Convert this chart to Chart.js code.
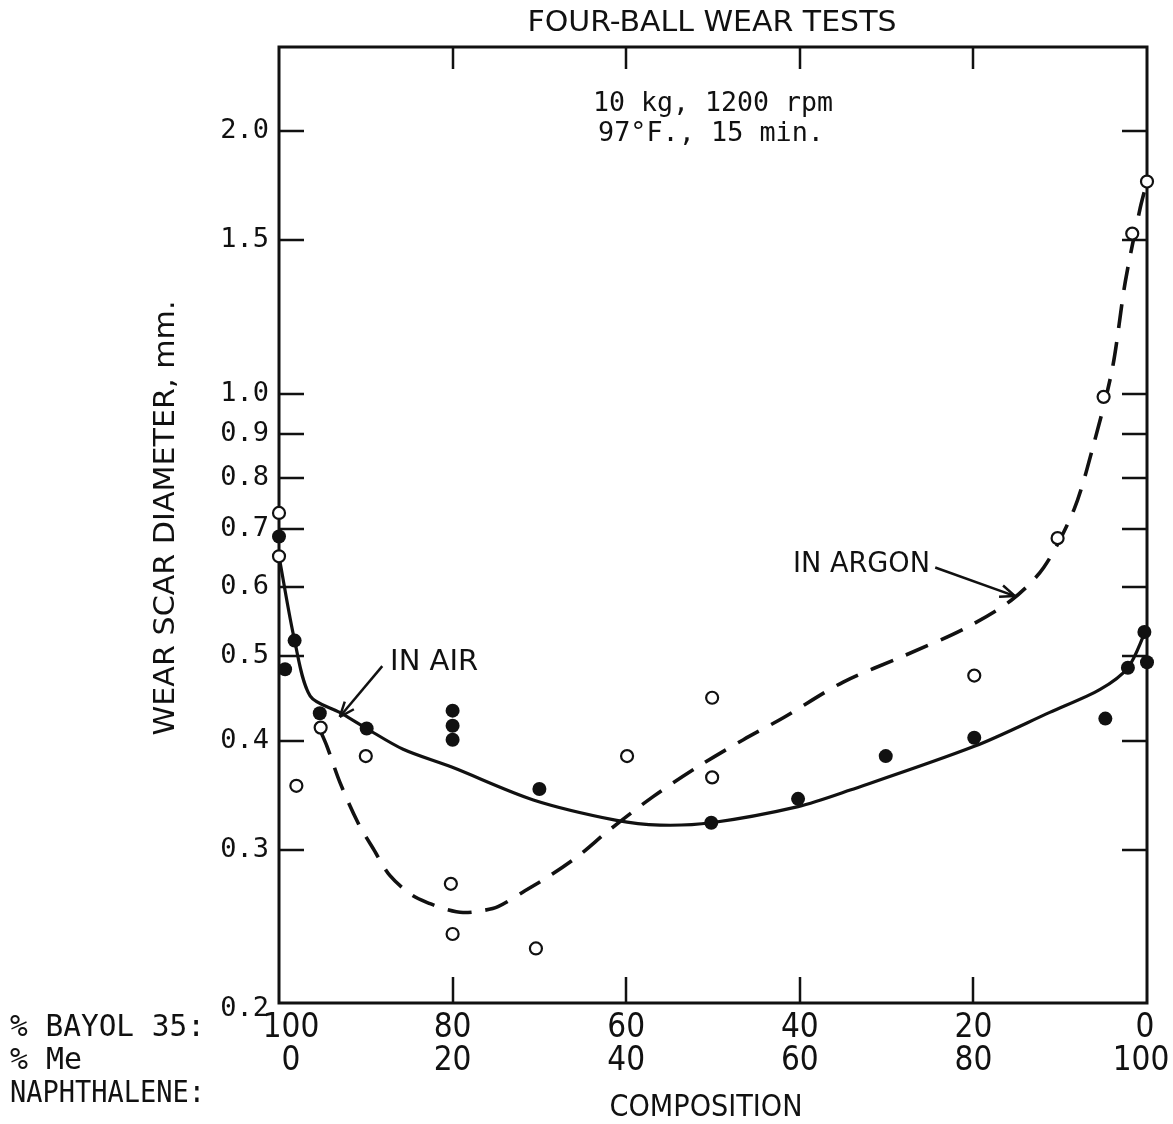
<!DOCTYPE html>
<html>
<head>
<meta charset="utf-8">
<script src="https://cdn.jsdelivr.net/npm/chart.js@4/dist/chart.umd.min.js"></script>
<style>
html,body{margin:0;padding:0;background:#fff;}
#wrap{width:1173px;height:1124px;position:relative;}
</style>
</head>
<body>
<div id="wrap"><canvas id="c" width="1173" height="1124"></canvas></div>
<script>
// ---- data (x = % BAYOL 35, y = wear scar diameter, mm) ----
const airBayol = [100, 99.3, 98.2, 95.3, 89.9, 80, 80, 80, 70, 50.2, 40.2, 30.1, 19.9, 4.8, 2.2, 0.3, 0];
const airWear  = [0.686, 0.483, 0.521, 0.430, 0.413, 0.433, 0.416, 0.401, 0.352, 0.322, 0.343, 0.384, 0.403, 0.424, 0.485, 0.533, 0.492];

const argonBayol = [100, 100, 98.0, 95.2, 90.0, 80.2, 80, 70.4, 59.9, 50.1, 50.1, 19.9, 10.3, 5.0, 1.7, 0];
const argonWear  = [0.730, 0.651, 0.355, 0.414, 0.384, 0.274, 0.240, 0.231, 0.384, 0.448, 0.363, 0.475, 0.683, 0.992, 1.527, 1.752];

const airCurveBayol = [100, 98.2, 96.4, 93.0, 89.9, 85.7, 80.1, 70.7, 61.1, 56.1, 50.2, 40.2, 34.2, 19.9, 11.2, 5.4, 2.2, 0.2];
const airCurveWear  = [0.651, 0.521, 0.450, 0.431, 0.413, 0.391, 0.373, 0.342, 0.324, 0.320, 0.322, 0.336, 0.351, 0.394, 0.431, 0.458, 0.485, 0.533];

const argonCurveBayol = [95.16, 94.47, 92.97, 90.90, 89.17, 87.21, 84.68, 82.60, 80.65, 78.80, 76.84, 74.77, 71.66, 68.55, 65.32, 62.10, 56.9, 51.8, 46.5, 41.9, 35.0, 27.9, 21.0, 15.6, 11.9, 8.4, 6.2, 4.0, 2.5, 0.8, 0];
const argonCurveWear  = [0.409, 0.394, 0.358, 0.322, 0.301, 0.280, 0.266, 0.260, 0.256, 0.254, 0.255, 0.258, 0.269, 0.281, 0.296, 0.315, 0.345, 0.373, 0.401, 0.425, 0.467, 0.501, 0.538, 0.580, 0.632, 0.737, 0.871, 1.068, 1.345, 1.631, 1.752];

const yTicks      = [0.3, 0.4, 0.5, 0.6, 0.7, 0.8, 0.9, 1.0, 1.5, 2.0];
const yLabelVals  = [0.2, 0.3, 0.4, 0.5, 0.6, 0.7, 0.8, 0.9, 1.0, 1.5, 2.0];
const yLabels     = ['0.2', '0.3', '0.4', '0.5', '0.6', '0.7', '0.8', '0.9', '1.0', '1.5', '2.0'];
const xTicks      = [80, 60, 40, 20];
const xLabelVals  = [100, 80, 60, 40, 20, 0];
const bayolLabels = ['100', '80', '60', '40', '20', '0'];
const meLabels    = ['0', '20', '40', '60', '80', '100'];

const titleText   = 'FOUR-BALL WEAR TESTS';
const condLines   = ['10 kg, 1200 rpm', '97°F., 15 min.'];
const yTitle      = 'WEAR SCAR DIAMETER, mm.';
const xTitle      = 'COMPOSITION';
const rowLabels   = ['% BAYOL 35:', '% Me', 'NAPHTHALENE:'];

// annotations in data coordinates
const airNote   = {text: 'IN AIR',   tx: 87.2, ty: 0.492, fx: 88.1, fy: 0.487, ex: 93.0, ey: 0.426, align: 'left'};
const argonNote = {text: 'IN ARGON', tx: 25.0, ty: 0.636, fx: 24.4, fy: 0.632, ex: 15.2, ey: 0.586, align: 'right'};

const toPts = (xs, ys) => xs.map((x, i) => ({x: x, y: ys[i]}));
const INK = '#111';

function arrow(ctx, x1, y1, x2, y2) {
  ctx.beginPath(); ctx.moveTo(x1, y1); ctx.lineTo(x2, y2); ctx.stroke();
  const a = Math.atan2(y2 - y1, x2 - x1), L = 16, w = 0.38;
  ctx.beginPath();
  ctx.moveTo(x2, y2);
  ctx.lineTo(x2 - L * Math.cos(a - w), y2 - L * Math.sin(a - w));
  ctx.moveTo(x2, y2);
  ctx.lineTo(x2 - L * Math.cos(a + w), y2 - L * Math.sin(a + w));
  ctx.stroke();
}

// draw text horizontally stretched/compressed to a given width
function fitText(ctx, text, x, y, width, align) {
  const m = ctx.measureText(text).width;
  const s = width / m;
  ctx.save();
  ctx.textAlign = 'left';
  let left = x;
  if (align === 'center') left = x - width / 2;
  else if (align === 'right') left = x - width;
  ctx.translate(left, y);
  ctx.scale(s, 1);
  ctx.fillText(text, 0, 0);
  ctx.restore();
}

const decor = {
  id: 'decor',
  beforeDatasetsDraw(chart) {
    const {ctx, chartArea: a, scales: {x, y}} = chart;
    ctx.save();
    ctx.strokeStyle = INK;
    ctx.lineWidth = 3;
    ctx.strokeRect(a.left, a.top, a.right - a.left, a.bottom - a.top);
    ctx.lineWidth = 2.5;
    ctx.beginPath();
    yTicks.forEach(v => {
      const py = Math.round(y.getPixelForValue(v));
      ctx.moveTo(a.left, py); ctx.lineTo(a.left + 25, py);
      ctx.moveTo(a.right, py); ctx.lineTo(a.right - 25, py);
    });
    xTicks.forEach(v => {
      const px = Math.round(x.getPixelForValue(v));
      ctx.moveTo(px, a.top); ctx.lineTo(px, a.top + 22);
      ctx.moveTo(px, a.bottom); ctx.lineTo(px, a.bottom - 26);
    });
    ctx.stroke();
    ctx.restore();
  },
  afterDraw(chart) {
    const {ctx, chartArea: a, scales: {x, y}} = chart;
    ctx.save();
    ctx.fillStyle = INK;
    ctx.strokeStyle = INK;
    ctx.textBaseline = 'middle';
    // title and conditions
    ctx.font = '29px "DejaVu Sans Condensed", "DejaVu Sans"';
    fitText(ctx, titleText, 712, 23, 369, 'center');
    ctx.font = '26px "DejaVu Sans Mono"';
    fitText(ctx, condLines[0], 713, 104, 240, 'center');
    fitText(ctx, condLines[1], 711, 134, 226, 'center');
    // y tick labels
    ctx.textAlign = 'right';
    ctx.font = '27px "DejaVu Sans Mono"';
    yLabelVals.forEach((v, i) => {
      const py = y.getPixelForValue(v);
      ctx.fillText(yLabels[i], a.left - 10, v === 0.2 ? py + 6 : py);
    });
    // y title
    ctx.save();
    ctx.translate(167, 518);
    ctx.rotate(-Math.PI / 2);
    ctx.font = '28px "DejaVu Sans"';
    fitText(ctx, yTitle, 0, 0, 435, 'center');
    ctx.restore();
    // x labels
    ctx.textAlign = 'center';
    ctx.font = '33px "DejaVu Sans Condensed", "DejaVu Sans"';
    xLabelVals.forEach((v, i) => {
      const px = x.getPixelForValue(v);
      const last = i === xLabelVals.length - 1;
      ctx.fillText(bayolLabels[i], px + (i === 0 ? 12 : (last ? -2 : 0)), 1028);
      ctx.fillText(meLabels[i], px + (i === 0 ? 12 : (last ? -6 : 0)), 1061);
    });
    ctx.font = '30px "DejaVu Sans Mono"';
    fitText(ctx, rowLabels[0], 10, 1028, 195, 'left');
    fitText(ctx, rowLabels[1], 10, 1061, 72, 'left');
    fitText(ctx, rowLabels[2], 10, 1094, 195, 'left');
    ctx.font = '31px "DejaVu Sans Condensed", "DejaVu Sans"';
    fitText(ctx, xTitle, 706, 1108, 193, 'center');
    // annotations
    ctx.font = '28px "DejaVu Sans"';
    ctx.lineWidth = 2.5;
    fitText(ctx, airNote.text, x.getPixelForValue(airNote.tx), y.getPixelForValue(airNote.ty), 88, 'left');
    fitText(ctx, argonNote.text, x.getPixelForValue(argonNote.tx), y.getPixelForValue(argonNote.ty), 137, 'right');
    [airNote, argonNote].forEach(n => {
      arrow(ctx, x.getPixelForValue(n.fx), y.getPixelForValue(n.fy),
                 x.getPixelForValue(n.ex), y.getPixelForValue(n.ey));
    });
    ctx.restore();
  }
};

new Chart(document.getElementById('c'), {
  type: 'scatter',
  data: {
    datasets: [
      {label: 'In air', data: toPts(airBayol, airWear), pointRadius: 7, pointBackgroundColor: INK,
       pointBorderColor: INK, pointBorderWidth: 0, showLine: false, clip: false, order: 1},
      {label: 'In argon', data: toPts(argonBayol, argonWear), pointRadius: 6, pointBackgroundColor: '#fff',
       pointBorderColor: INK, pointBorderWidth: 2.2, showLine: false, clip: false, order: 2},
      {label: 'In air curve', data: toPts(airCurveBayol, airCurveWear), showLine: true, pointRadius: 0,
       borderColor: INK, borderWidth: 3.2, tension: 0.3, clip: false, order: 3},
      {label: 'In argon curve', data: toPts(argonCurveBayol, argonCurveWear), showLine: true, pointRadius: 0,
       borderColor: INK, borderWidth: 3.6, borderDash: [24, 14], tension: 0.3, clip: false, order: 4}
    ]
  },
  options: {
    responsive: false,
    animation: false,
    devicePixelRatio: 1,
    layout: {padding: {left: 279, right: 26, top: 47, bottom: 121}},
    plugins: {legend: {display: false}, tooltip: {enabled: false}},
    scales: {
      x: {type: 'linear', min: 0, max: 100, reverse: true, display: false},
      y: {type: 'logarithmic', min: 0.2, max: 2.5, display: false}
    }
  },
  plugins: [decor]
});
</script>
</body>
</html>
